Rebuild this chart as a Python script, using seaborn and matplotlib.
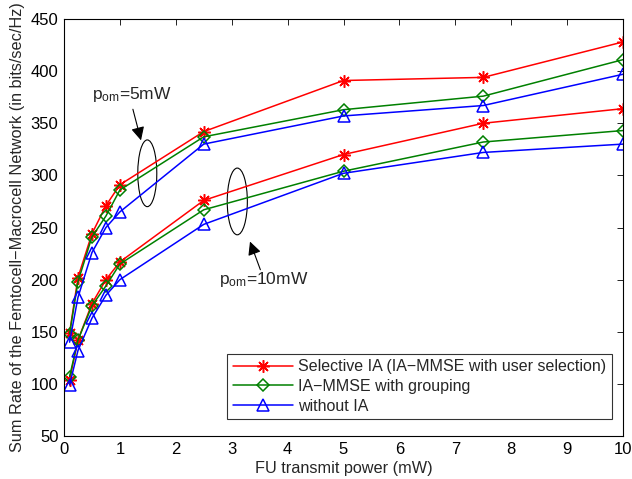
import matplotlib
matplotlib.use("Agg")
import matplotlib.pyplot as plt
from matplotlib.patches import Ellipse
import seaborn as sns
import pandas as pd

sns.set_theme(style="white")
plt.rcParams['font.family'] = ['Liberation Sans', 'DejaVu Sans']
plt.rcParams['mathtext.fontset'] = 'custom'
plt.rcParams['mathtext.rm'] = 'Liberation Sans'
plt.rcParams['mathtext.it'] = 'Liberation Sans:italic'

power = [0.1, 0.25, 0.5, 0.75, 1, 2.5, 5, 7.5, 10]

# p_om = 5 mW
sel_5 = [149, 202, 244, 271, 291, 342, 391, 394, 428]
grp_5 = [148, 198, 241, 261, 286, 337, 363, 376, 411]
noia_5 = [140, 183, 226, 250, 265, 330, 357, 367, 397]

# p_om = 10 mW
sel_10 = [104, 142, 177, 200, 217, 276, 320, 350, 364]
grp_10 = [107, 142, 175, 194, 215, 267, 304, 332, 343]
noia_10 = [99, 132, 163, 185, 200, 253, 302, 322, 330]

labels = ["Selective IA (IA\u2212MMSE with user selection)",
          "IA\u2212MMSE with grouping",
          "without IA"]
xticks = [0, 1, 2, 3, 4, 5, 6, 7, 8, 9, 10]
yticks = [50, 100, 150, 200, 250, 300, 350, 400, 450]

colors = ["#ff0000", "#008000", "#0000ff"]
markers = [(8, 2, 0), "D", "^"]
msizes = [9, 6.5, 9]

fig = plt.figure(figsize=(6.32, 4.79), dpi=100)
ax = fig.add_axes([64/632, 1 - 436/479, (623-64)/632, (436-19)/479])

series = [(sel_5, sel_10), (grp_5, grp_10), (noia_5, noia_10)]
for i, (a, b) in enumerate(series):
    for j, vals in enumerate((a, b)):
        df = pd.DataFrame({"x": power, "y": vals})
        sns.lineplot(data=df, x="x", y="y", ax=ax, color=colors[i],
                     marker=markers[i], markersize=msizes[i],
                     markerfacecolor="none", markeredgecolor=colors[i],
                     markeredgewidth=1.1, linewidth=1.1,
                     label=labels[i] if j == 0 else None, legend=False)

ax.set_xlim(0, 10)
ax.set_ylim(50, 450)
ax.set_xticks(xticks)
ax.set_yticks(yticks)
ax.tick_params(direction="in", top=True, right=True, length=4,
               labelsize=12, colors="black", width=0.6, pad=4)
for s in ax.spines.values():
    s.set_color("black")
    s.set_linewidth(0.8)
ax.set_xlabel("FU transmit power (mW)", fontsize=11.7, labelpad=3)
ax.set_ylabel("Sum Rate of the Femtocell\u2212Macrocell Network (in bits/sec/Hz)",
              fontsize=11.7, labelpad=4)

# annotations
ax.add_patch(Ellipse((1.49, 302), 0.34, 64, fill=False, edgecolor="black", linewidth=0.8))
ax.add_patch(Ellipse((3.10, 275), 0.36, 64, fill=False, edgecolor="black", linewidth=0.8))
ax.annotate("", xy=(1.39, 331), xytext=(1.22, 366),
            arrowprops=dict(arrowstyle="-|>", color="black", lw=0.8, mutation_scale=20))
ax.annotate("", xy=(3.31, 239), xytext=(3.53, 207),
            arrowprops=dict(arrowstyle="-|>", color="black", lw=0.8, mutation_scale=20))
ax.text(1.21, 378, r"p$_{\rm om}$=5mW", fontsize=12.5, ha="center", va="center")
ax.text(3.57, 200, r"p$_{\rm om}$=10mW", fontsize=12.5, ha="center", va="center")

leg = ax.legend(loc="lower right", fontsize=11.5, frameon=True, fancybox=False,
                edgecolor="black", borderpad=0.35, labelspacing=0.3,
                handlelength=3.8, handletextpad=0.3, borderaxespad=0,
                bbox_to_anchor=(0.98, 0.04))
leg.get_frame().set_linewidth(0.8)

fig.savefig("out.png", dpi=100)
